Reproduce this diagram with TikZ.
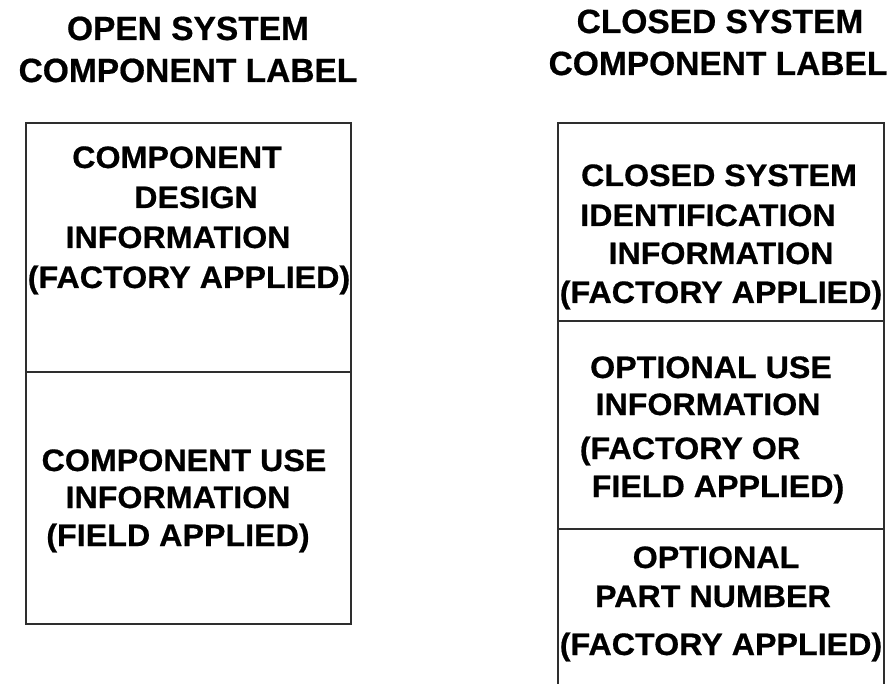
\documentclass[tikz,border=0pt]{standalone}
\usepackage{fontspec}
\setmainfont{Liberation Sans}[BoldFeatures={FakeBold=0.6}]
\newfontfamily\boxfont{Liberation Sans}[FakeStretch=1.04,BoldFeatures={FakeBold=0.6}]
\begin{document}
\begin{tikzpicture}[x=1pt,y=-1pt,
  frame/.style={line width=1.5pt, draw=black!82},
  head/.style={anchor=base, font=\fontsize{33.5}{40}\selectfont\bfseries, inner sep=0pt},
  txt/.style={anchor=base, font=\boxfont\fontsize{31}{38}\selectfont\bfseries, inner sep=0pt}]
\useasboundingbox (0,0) rectangle (894,684);

% titles
\node[head] (h1a) at (188,40) {OPEN SYSTEM};
\node[head] (h1b) at (188,82) {COMPONENT LABEL};
\node[head] (h2a) at (720,33) {CLOSED SYSTEM};
\node[head] (h2b) at (718,75) {COMPONENT LABEL};

% open system label
\draw[frame] (26,123) rectangle (351,624);
\draw[frame] (26,372) -- (351,372);
\node[txt] (o1) at (177,168) {COMPONENT};
\node[txt] (o2) at (196,208) {DESIGN};
\node[txt] (o3) at (178,248) {INFORMATION};
\node[txt] (o4) at (189,288) {(FACTORY APPLIED)};
\node[txt] (o5) at (184,471) {COMPONENT USE};
\node[txt] (o6) at (178,508) {INFORMATION};
\node[txt] (o7) at (178,546) {(FIELD APPLIED)};

% closed system label (open at the bottom)
\draw[frame] (558,684) -- (558,123) -- (884,123) -- (884,684);
\draw[frame] (558,321) -- (884,321);
\draw[frame] (558,529) -- (884,529);
\node[txt] (c1) at (719,186) {CLOSED SYSTEM};
\node[txt] (c2) at (708,226) {IDENTIFICATION};
\node[txt] (c3) at (721,264) {INFORMATION};
\node[txt] (c4) at (721,303) {(FACTORY APPLIED)};
\node[txt] (c5) at (711,378) {OPTIONAL USE};
\node[txt] (c6) at (708,415) {INFORMATION};
\node[txt] (c7) at (690,459) {(FACTORY OR};
\node[txt] (c8) at (718,497) {FIELD APPLIED)};
\node[txt] (c9) at (716,568) {OPTIONAL};
\node[txt] (c10) at (713,607) {PART NUMBER};
\node[txt] (c11) at (721,655) {(FACTORY APPLIED)};
\end{tikzpicture}
\end{document}
